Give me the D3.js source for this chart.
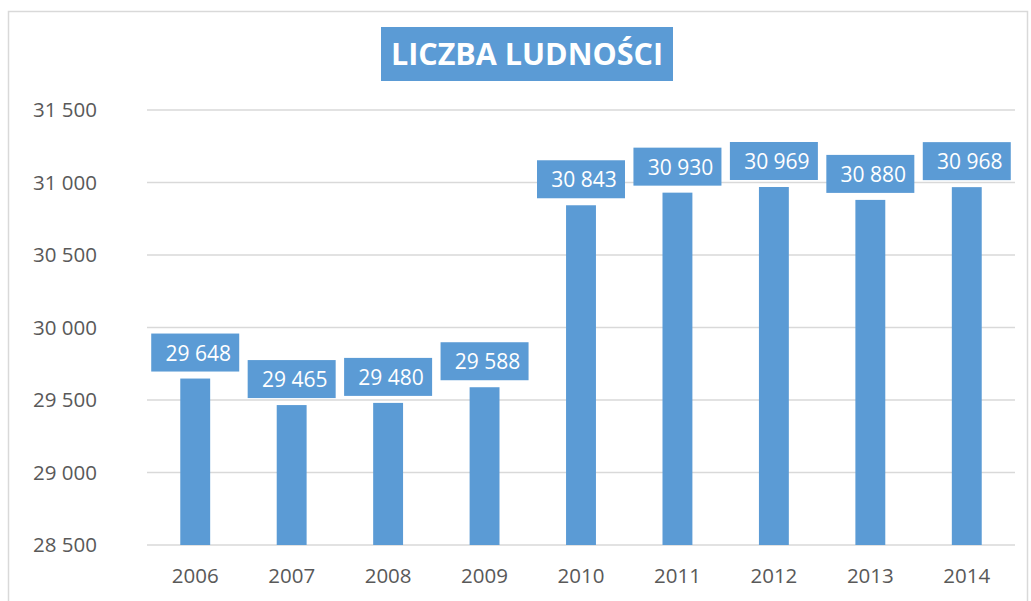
<!DOCTYPE html>
<html><head><meta charset="utf-8">
<script src="https://cdn.jsdelivr.net/npm/d3@7"></script>
<style>body{margin:0;background:#fff}svg{display:block}</style>
</head><body>
<svg id="c" width="1031" height="601"></svg>
<script>
const years = ["2006","2007","2008","2009","2010","2011","2012","2013","2014"];
const population = [29648, 29465, 29480, 29588, 30843, 30930, 30969, 30880, 30968];
const yTicks = [28500, 29000, 29500, 30000, 30500, 31000, 31500];
const title = "LICZBA LUDNOŚCI";

const svg = d3.select("#c");
const blue = "#5b9bd5";
const font = "'Open Sans', sans-serif";
const fmt = v => d3.format(",")(v).replace(/,/g, " ");

svg.append("rect").attr("x", 8.5).attr("y", 11.5).attr("width", 1019).attr("height", 620)
  .attr("fill", "#fff").attr("stroke", "#d9d9d9").attr("stroke-width", 1.5);

const x = d3.scaleBand().domain(years).range([147, 1015]).paddingInner(0.69).paddingOuter(0.345);
const y = d3.scaleLinear().domain([28500, 31500]).range([545, 110]);

const grid = svg.append("g");
grid.selectAll("line").data(yTicks).join("line")
  .attr("x1", 147).attr("x2", 1015)
  .attr("y1", d => y(d)).attr("y2", d => y(d))
  .attr("stroke", "#d9d9d9").attr("stroke-width", 1.5);

const yAxis = svg.append("g").attr("transform", "translate(97,0)")
  .call(d3.axisLeft(y).tickValues(yTicks).tickFormat(fmt).tickSize(0).tickPadding(0));
yAxis.select(".domain").remove();
yAxis.selectAll("text").attr("font-family", font).attr("font-size", 20.5).attr("fill", "#595959");

const xAxis = svg.append("g").attr("transform", "translate(0,545)")
  .call(d3.axisBottom(x).tickSize(0).tickPadding(0));
xAxis.select(".domain").remove();
xAxis.selectAll("text").attr("font-family", font).attr("font-size", 20.5).attr("fill", "#595959")
  .attr("dy", null).attr("y", 38);

svg.append("g").selectAll("rect").data(years).join("rect")
  .attr("x", d => x(d)).attr("width", x.bandwidth())
  .attr("y", (d, i) => y(population[i])).attr("height", (d, i) => y(28500) - y(population[i]))
  .attr("fill", blue);

const lab = svg.append("g").selectAll("g").data(years).join("g")
  .attr("transform", (d, i) => `translate(${x(d) + x.bandwidth() / 2},${y(population[i]) - 7})`);
lab.append("rect").attr("x", -44).attr("y", -38).attr("width", 88).attr("height", 38).attr("fill", blue);
lab.append("text").attr("x", 3).attr("y", -11).attr("text-anchor", "middle")
  .attr("font-family", font).attr("font-size", 21).attr("fill", "#fff")
  .text((d, i) => fmt(population[i]));

svg.append("rect").attr("x", 381).attr("y", 27).attr("width", 292).attr("height", 54).attr("fill", blue);
svg.append("text").attr("x", 527).attr("y", 65).attr("text-anchor", "middle")
  .attr("font-family", font).attr("font-weight", "bold").attr("font-size", 30.5).attr("fill", "#fff")
  .text(title);
</script>
</body></html>
